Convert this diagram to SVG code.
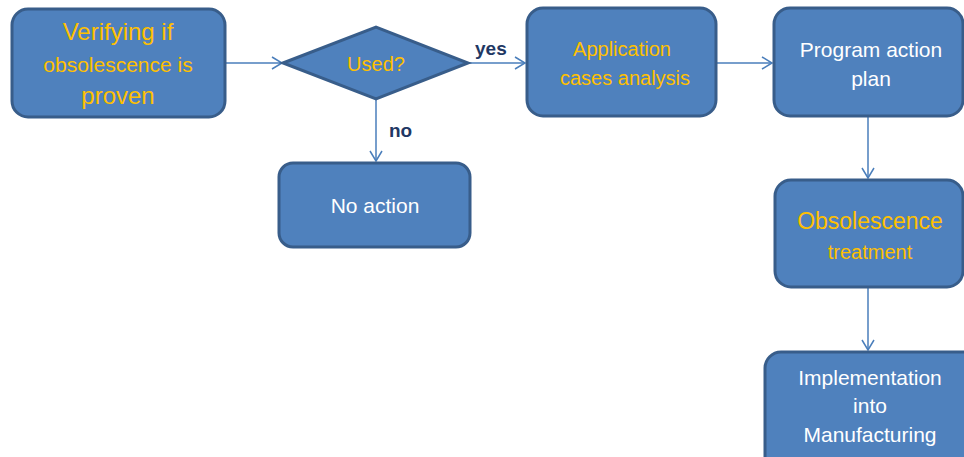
<svg xmlns="http://www.w3.org/2000/svg" width="964" height="457" viewBox="0 0 964 457">
<defs>
<marker id="arr" markerWidth="14" markerHeight="14" refX="11" refY="7" orient="auto" markerUnits="userSpaceOnUse">
<path d="M1,1 L11,7 L1,13" fill="none" stroke="#4a7ebb" stroke-width="1.5"/>
</marker>
</defs>
<style>
.box{fill:#4f81bd;stroke:#385d8a;stroke-width:3}
.t{font-family:"Liberation Sans",Arial,sans-serif;text-anchor:middle}
.y{fill:#ffc000}
.w{fill:#ffffff}
.lbl{font-family:"Liberation Sans",Arial,sans-serif;font-weight:bold;font-size:19px;fill:#1f3864}
.c{fill:none;stroke:#4a7ebb;stroke-width:1.5;marker-end:url(#arr)}
</style>
<rect width="964" height="457" fill="#ffffff"/>
<g id="connectors">
<line class="c" x1="226" y1="63" x2="282" y2="63"/>
<line class="c" x1="469" y1="63" x2="525" y2="63"/>
<line class="c" x1="717" y1="63" x2="772" y2="63"/>
<line class="c" x1="376" y1="99" x2="376" y2="161"/>
<line class="c" x1="868" y1="117" x2="868" y2="178"/>
<line class="c" x1="868" y1="288" x2="868" y2="350"/>
<text class="lbl" x="475" y="55">yes</text>
<text class="lbl" x="389" y="137">no</text>
</g>
<g id="verify">
<rect class="box" x="12" y="9" width="213" height="108" rx="16"/>
<text class="t y" x="118" y="40" font-size="24">Verifying if</text>
<text class="t y" x="118" y="72" font-size="21">obsolescence is</text>
<text class="t y" x="118" y="104" font-size="24">proven</text>
</g>
<g id="used">
<polygon class="box" points="283,63 376,27 468,63 376,99"/>
<text class="t y" x="376" y="71" font-size="20">Used?</text>
</g>
<g id="application">
<rect class="box" x="527" y="8" width="189" height="108" rx="16"/>
<text class="t y" x="622" y="56" font-size="20">Application</text>
<text class="t y" x="625" y="85" font-size="20">cases analysis</text>
</g>
<g id="program">
<rect class="box" x="774" y="8" width="189" height="108" rx="16"/>
<text class="t w" x="871" y="57" font-size="21">Program action</text>
<text class="t w" x="871" y="86" font-size="21">plan</text>
</g>
<g id="noaction">
<rect class="box" x="279" y="163" width="191" height="84" rx="14"/>
<text class="t w" x="375" y="213" font-size="21">No action</text>
</g>
<g id="treatment">
<rect class="box" x="775" y="180" width="188" height="107" rx="16"/>
<text class="t y" x="870" y="229" font-size="23">Obsolescence</text>
<text class="t y" x="870" y="259" font-size="20">treatment</text>
</g>
<g id="implementation">
<rect class="box" x="765" y="352" width="215" height="120" rx="16"/>
<text class="t w" x="870" y="385" font-size="21">Implementation</text>
<text class="t w" x="870" y="413" font-size="21">into</text>
<text class="t w" x="870" y="442" font-size="21">Manufacturing</text>
</g>
</svg>
